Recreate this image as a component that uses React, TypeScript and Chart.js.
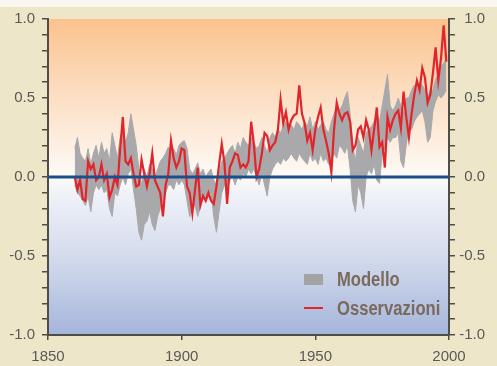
import React, { useEffect, useRef } from "react";
import { Chart, registerables } from "chart.js";

Chart.register(...registerables);

const startYear = 1860;

// Observed temperature anomaly (°C), yearly 1860-1999
const observations = [
  0.00, -0.08, -0.02, -0.14, -0.15, 0.10, 0.05, 0.08, -0.02, 0.00,
  0.08, -0.02, 0.02, -0.13, -0.08, 0.00, -0.05, 0.18, 0.38, 0.10,
  0.08, 0.12, 0.02, -0.06, -0.05, 0.11, 0.02, -0.06, 0.02, 0.15,
  -0.02, -0.06, -0.10, -0.25, -0.05, 0.02, 0.23, 0.12, 0.06, 0.10,
  0.18, 0.17, -0.06, -0.10, -0.23, -0.08, 0.06, -0.18, -0.12, -0.15,
  -0.10, -0.15, -0.17, -0.06, 0.08, 0.21, 0.09, -0.17, 0.06, 0.10,
  0.15, 0.14, 0.06, 0.08, 0.06, 0.10, 0.35, 0.21, 0.00, 0.05,
  0.15, 0.28, 0.26, 0.17, 0.20, 0.22, 0.30, 0.49, 0.34, 0.41,
  0.30, 0.36, 0.39, 0.40, 0.58, 0.40, 0.34, 0.23, 0.28, 0.17,
  0.30, 0.38, 0.44, 0.30, 0.23, 0.15, 0.03, 0.30, 0.47, 0.40,
  0.36, 0.40, 0.41, 0.35, 0.17, 0.20, 0.30, 0.32, 0.25, 0.36,
  0.30, 0.17, 0.30, 0.44, 0.19, 0.22, 0.06, 0.38, 0.30, 0.36,
  0.40, 0.42, 0.31, 0.54, 0.38, 0.25, 0.40, 0.52, 0.61, 0.55,
  0.69, 0.63, 0.47, 0.52, 0.66, 0.82, 0.61, 0.75, 0.96, 0.73,
];

// Model ensemble range: lower edge
const modelLow = [
  -0.05, -0.10, -0.12, -0.15, -0.18, -0.12, -0.22, -0.10, -0.05, -0.08,
  -0.05, -0.10, -0.08, -0.20, -0.25, -0.10, -0.12, -0.05, 0.00, -0.05,
  0.02, 0.05, -0.08, -0.20, -0.35, -0.40, -0.30, -0.28, -0.22, -0.30,
  -0.34, -0.25, -0.20, -0.15, -0.10, -0.05, -0.05, -0.08, -0.02, -0.05,
  -0.02, -0.05, -0.15, -0.25, -0.20, -0.18, -0.25, -0.18, -0.12, -0.15,
  -0.12, -0.10, -0.25, -0.35, -0.22, -0.10, -0.05, -0.08, -0.02, 0.00,
  -0.05, 0.00, -0.02, 0.02, 0.00, 0.05, 0.02, 0.05, 0.00, -0.05,
  0.02, -0.05, -0.12, 0.00, 0.05, 0.08, 0.10, 0.08, 0.12, 0.10,
  0.12, 0.15, 0.12, 0.10, 0.15, 0.12, 0.10, 0.08, 0.15, 0.10,
  0.12, 0.08, 0.15, 0.10, 0.12, 0.08, 0.10, 0.15, 0.12, 0.20,
  0.18, 0.15, 0.20, 0.05, -0.15, -0.22, -0.05, -0.10, -0.20, 0.00,
  0.05, 0.02, 0.08, -0.02, -0.04, 0.15, 0.18, 0.25, 0.22, 0.25,
  0.25, 0.28, 0.10, 0.06, 0.20, 0.32, 0.30, 0.35, 0.38, 0.40,
  0.42, 0.35, 0.22, 0.25, 0.42, 0.48, 0.52, 0.50, 0.52, 0.55,
];

// Model ensemble range: upper edge
const modelHigh = [
  0.18, 0.25, 0.15, 0.12, 0.10, 0.18, 0.08, 0.15, 0.20, 0.12,
  0.22, 0.15, 0.18, 0.10, 0.28, 0.20, 0.12, 0.25, 0.30, 0.22,
  0.28, 0.40, 0.30, 0.20, 0.05, -0.05, 0.05, 0.00, 0.08, 0.05,
  0.00, 0.05, 0.10, 0.12, 0.15, 0.19, 0.15, 0.18, 0.14, 0.20,
  0.22, 0.23, 0.18, 0.05, 0.02, 0.05, 0.09, 0.02, 0.05, 0.00,
  0.03, 0.05, -0.02, -0.05, 0.02, 0.10, 0.12, 0.15, 0.18, 0.20,
  0.15, 0.22, 0.18, 0.25, 0.22, 0.20, 0.25, 0.22, 0.18, 0.20,
  0.25, 0.20, 0.15, 0.25, 0.28, 0.25, 0.30, 0.28, 0.32, 0.35,
  0.30, 0.33, 0.30, 0.35, 0.33, 0.30, 0.35, 0.32, 0.38, 0.30,
  0.35, 0.30, 0.33, 0.35, 0.30, 0.28, 0.35, 0.40, 0.45, 0.42,
  0.45, 0.50, 0.54, 0.40, 0.20, 0.10, 0.25, 0.20, 0.15, 0.28,
  0.30, 0.32, 0.35, 0.40, 0.35, 0.45, 0.55, 0.65, 0.45, 0.42,
  0.45, 0.50, 0.45, 0.40, 0.50, 0.50, 0.55, 0.58, 0.55, 0.60,
  0.58, 0.55, 0.50, 0.55, 0.55, 0.62, 0.65, 0.70, 0.72, 0.75,
];

const xTicks = [1850, 1900, 1950, 2000];
const yMin = -1.0;
const yMax = 1.0;
const legendLabels = ["Modello", "Osservazioni"];

const years = observations.map((_, i) => startYear + i);

const AXIS = "#4e4d47";
const LABEL = "#595959";
const TICK_FONT = { family: "'Liberation Sans', Arial, sans-serif", size: 15 };

export default function App() {
  const ref = useRef<HTMLCanvasElement | null>(null);

  useEffect(() => {
    const canvas = ref.current!;
    const toPts = (arr: number[]) => arr.map((v, i) => ({ x: years[i], y: v }));

    const bgPlugin = {
      id: "bg",
      beforeDraw(chart: any) {
        const { ctx, chartArea: a, width, height } = chart;
        ctx.save();
        ctx.fillStyle = "#eee6c9";
        ctx.fillRect(0, 0, width, height);
        ctx.fillStyle = "#f8f6ee";
        ctx.fillRect(0, 0, width, 7);
        const g = ctx.createLinearGradient(0, a.top, 0, a.bottom);
        g.addColorStop(0, "#fbc28d");
        g.addColorStop(0.22, "#fcdcbe");
        g.addColorStop(0.42, "#fdf1e6");
        g.addColorStop(0.5, "#fcfbf8");
        g.addColorStop(0.56, "#eef1f8");
        g.addColorStop(0.75, "#d4dbec");
        g.addColorStop(1, "#a5b5db");
        ctx.fillStyle = g;
        ctx.fillRect(a.left, a.top, a.right - a.left, a.bottom - a.top);
        ctx.restore();
      },
    };

    const legendPlugin = {
      id: "customLegend",
      afterDraw(chart: any) {
        const { ctx, chartArea: a } = chart;
        const x0 = a.left + 256;
        const y1 = a.top + 260;
        const y2 = a.top + 289;
        ctx.save();
        ctx.fillStyle = "#a3a3a5";
        ctx.fillRect(x0, y1 - 5, 19, 11);
        ctx.strokeStyle = "#e0262c";
        ctx.lineWidth = 2;
        ctx.beginPath();
        ctx.moveTo(x0, y2);
        ctx.lineTo(x0 + 19, y2);
        ctx.stroke();
        ctx.fillStyle = "#7a6a5c";
        ctx.font = "bold 20px 'Liberation Sans', Arial, sans-serif";
        ctx.textBaseline = "middle";
        ctx.textAlign = "left";
        const sx = 0.83;
        ctx.translate(x0 + 33, 0);
        ctx.scale(sx, 1);
        ctx.fillText(legendLabels[0], 0, y1 + 1);
        ctx.fillText(legendLabels[1], 0, y2 + 1);
        ctx.restore();
      },
    };

    const yTickCb = (v: any) => {
      const n = Number(v);
      if (Math.abs(n * 2 - Math.round(n * 2)) > 1e-6) return "";
      if (Math.abs(n) < 1e-9) return "0.0";
      return n.toFixed(1);
    };

    const yGrid = {
      display: true,
      drawOnChartArea: false,
      drawTicks: true,
      tickLength: 6,
      color: AXIS,
      lineWidth: 1.5,
    };

    const chart = new Chart(canvas, {
      type: "line",
      data: {
        datasets: [
          {
            label: "low",
            data: toPts(modelLow),
            borderColor: "#a9a9ab",
            borderWidth: 1,
            pointRadius: 0,
            fill: false,
            tension: 0,
            order: 3,
          },
          {
            label: legendLabels[0],
            data: toPts(modelHigh),
            borderColor: "#a9a9ab",
            borderWidth: 1,
            backgroundColor: "#a9a9ab",
            pointRadius: 0,
            fill: "-1",
            tension: 0,
            order: 2,
          },
          {
            label: legendLabels[1],
            data: toPts(observations),
            borderColor: "#e2242b",
            borderWidth: 2.2,
            pointRadius: 0,
            fill: false,
            tension: 0,
            order: 1,
          },
          {
            label: "zero",
            data: [
              { x: xTicks[0], y: 0 },
              { x: xTicks[xTicks.length - 1], y: 0 },
            ],
            borderColor: "#1a4f8c",
            borderWidth: 3,
            pointRadius: 0,
            fill: false,
            order: 0,
          },
        ],
      },
      options: {
        animation: false,
        responsive: false,
        maintainAspectRatio: false,
        layout: { padding: { top: 19, right: 12, left: 0, bottom: 0 } },
        plugins: { legend: { display: false }, tooltip: { enabled: false } },
        scales: {
          x: {
            type: "linear",
            min: xTicks[0],
            max: xTicks[xTicks.length - 1],
            afterBuildTicks(scale: any) {
              scale.ticks = xTicks.map((v) => ({ value: v }));
            },
            afterFit(scale: any) {
              scale.height = 31;
            },
            ticks: {
              callback: (v: any) => String(v),
              color: LABEL,
              font: TICK_FONT,
              padding: 8,
              maxRotation: 0,
              autoSkip: false,
            },
            grid: {
              display: true,
              drawOnChartArea: false,
              drawTicks: true,
              tickLength: 5,
              color: AXIS,
              lineWidth: 1.5,
            },
            border: { display: true, color: AXIS, width: 2 },
          },
          y: {
            position: "left",
            min: yMin,
            max: yMax,
            afterFit(scale: any) {
              scale.width = 48;
            },
            ticks: {
              stepSize: 0.1,
              autoSkip: false,
              callback: yTickCb,
              color: LABEL,
              font: TICK_FONT,
              padding: 7,
            },
            grid: yGrid,
            border: { display: true, color: AXIS, width: 2 },
          },
          y2: {
            position: "right",
            min: yMin,
            max: yMax,
            afterFit(scale: any) {
              scale.width = 36;
            },
            ticks: {
              stepSize: 0.1,
              autoSkip: false,
              callback: yTickCb,
              color: LABEL,
              font: TICK_FONT,
              padding: 7,
              crossAlign: "far",
            },
            grid: yGrid,
            border: { display: true, color: AXIS, width: 2 },
          },
        },
      },
      plugins: [bgPlugin, legendPlugin],
    } as any);

    return () => chart.destroy();
  }, []);

  return (
    <div style={{ position: "fixed", left: 0, top: 0, width: 497, height: 366 }}>
      <canvas ref={ref} width={497} height={366} style={{ display: "block" }} />
    </div>
  );
}
